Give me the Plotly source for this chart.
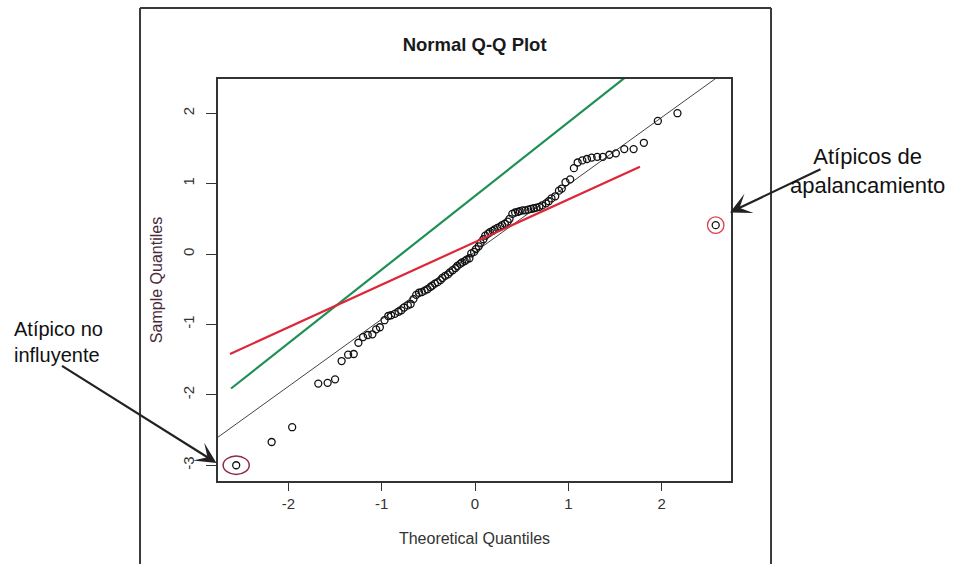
import plotly.graph_objects as go

# ---- data ----
theoretical_q = [
    -2.56, -2.18, -1.96, -1.68, -1.58, -1.50, -1.43, -1.36, -1.30, -1.25,
    -1.20, -1.15, -1.10, -1.06, -1.02, -0.97, -0.93, -0.90, -0.86, -0.82,
    -0.79, -0.76, -0.72, -0.69, -0.66, -0.63, -0.60, -0.57, -0.54, -0.51,
    -0.48, -0.46, -0.43, -0.40, -0.37, -0.35, -0.32, -0.29, -0.27, -0.24,
    -0.21, -0.19, -0.16, -0.14, -0.11, -0.09, -0.06, -0.04, -0.01, 0.01,
    0.04, 0.06, 0.09, 0.11, 0.14, 0.16, 0.19, 0.21, 0.24, 0.27,
    0.29, 0.32, 0.35, 0.37, 0.40, 0.43, 0.46, 0.48, 0.51, 0.54,
    0.57, 0.60, 0.63, 0.66, 0.69, 0.72, 0.76, 0.79, 0.82, 0.86,
    0.90, 0.93, 0.97, 1.02, 1.06, 1.10, 1.15, 1.20, 1.25, 1.31,
    1.37, 1.44, 1.51, 1.60, 1.70, 1.81, 1.96, 2.17, 2.58,
]
sample_q = [
    -3.00, -2.67, -2.46, -1.84, -1.83, -1.78, -1.52, -1.43, -1.42, -1.26,
    -1.18, -1.15, -1.14, -1.07, -1.04, -0.94, -0.88, -0.87, -0.85, -0.82,
    -0.80, -0.76, -0.73, -0.71, -0.64, -0.58, -0.55, -0.54, -0.52, -0.50,
    -0.47, -0.45, -0.42, -0.40, -0.37, -0.34, -0.31, -0.29, -0.26, -0.23,
    -0.20, -0.17, -0.14, -0.12, -0.10, -0.08, -0.06, 0.01, 0.03, 0.07,
    0.11, 0.16, 0.21, 0.26, 0.29, 0.31, 0.33, 0.35, 0.37, 0.39,
    0.41, 0.43, 0.46, 0.50, 0.57, 0.59, 0.60, 0.61, 0.62, 0.62,
    0.63, 0.64, 0.65, 0.66, 0.67, 0.69, 0.72, 0.75, 0.79, 0.82,
    0.90, 0.93, 1.02, 1.06, 1.22, 1.30, 1.33, 1.35, 1.37, 1.38,
    1.38, 1.41, 1.43, 1.49, 1.49, 1.58, 1.89, 2.00, 0.41,
]

# reference (qqline) line: intercept & slope
ref_intercept = 0.03
ref_slope = 0.955
x_range = [-2.755, 2.744]
y_range = [-3.224, 2.486]

# hand-drawn green and red lines (endpoints)
green_x = [-2.615, 1.683]
green_y = [-1.91, 2.585]
red_x = [-2.626, 1.768]
red_y = [-1.42, 1.24]

x_ticks = [-2, -1, 0, 1, 2]
x_ticklabels = ["-2", "-1", "0", "1", "2"]
y_ticks = [-3, -2, -1, 0, 1, 2]
y_ticklabels = ["-3", "-2", "-1", "0", "1", "2"]

FONT = "Liberation Sans, Arial, sans-serif"

fig = go.Figure()

ref_y = [ref_intercept + ref_slope * v for v in x_range]
fig.add_trace(go.Scatter(x=x_range, y=ref_y, mode="lines",
                         line=dict(color="#444444", width=1), hoverinfo="skip"))
fig.add_trace(go.Scatter(x=theoretical_q, y=sample_q, mode="markers",
                         marker=dict(symbol="circle-open", size=7, color="#111111",
                                     line=dict(width=1.3, color="#111111"))))
fig.add_trace(go.Scatter(x=green_x, y=green_y, mode="lines",
                         line=dict(color="#1f8f55", width=2.2)))
fig.add_trace(go.Scatter(x=red_x, y=red_y, mode="lines",
                         line=dict(color="#de2638", width=2.2)))

# outlier circles
lo_x, lo_y = theoretical_q[0], sample_q[0]
hi_x, hi_y = theoretical_q[-1], sample_q[-1]
shapes = [
    dict(type="circle", xref="x", yref="y", x0=lo_x - 0.14, x1=lo_x + 0.14,
         y0=lo_y - 0.13, y1=lo_y + 0.13, line=dict(color="#8c2a4a", width=1.5)),
    dict(type="circle", xref="x", yref="y", x0=hi_x - 0.088, x1=hi_x + 0.088,
         y0=hi_y - 0.117, y1=hi_y + 0.117, line=dict(color="#e0404a", width=1.3)),
    # outer frame of the scanned figure
    dict(type="line", xref="paper", yref="paper", x0=-0.152, x1=-0.152, y0=-0.3, y1=1.1766,
         line=dict(color="#3a3a3a", width=2)),
    dict(type="line", xref="paper", yref="paper", x0=1.078, x1=1.078, y0=-0.3, y1=1.1766,
         line=dict(color="#3a3a3a", width=2)),
    dict(type="line", xref="paper", yref="paper", x0=-0.152, x1=1.078, y0=1.1766, y1=1.1766,
         line=dict(color="#3a3a3a", width=2)),
]

annotations = [
    dict(x=0.998, y=0.668, xref="paper", yref="paper", text="", showarrow=True,
         axref="pixel", ayref="pixel", ax=92, ay=-44, arrowhead=3, arrowsize=1.6,
         arrowwidth=2.2, arrowcolor="#222222"),
    dict(x=-0.003, y=0.045, xref="paper", yref="paper", text="", showarrow=True,
         axref="pixel", ayref="pixel", ax=-156, ay=-98, arrowhead=3, arrowsize=1.6,
         arrowwidth=2.2, arrowcolor="#222222"),
    dict(x=1.267, y=0.771, xref="paper", yref="paper", text="Atípicos de<br>apalancamiento",
         showarrow=False, xanchor="center", yanchor="middle", align="center",
         font=dict(family=FONT, size=22, color="#111111")),
    dict(x=-0.4016, y=0.346, xref="paper", yref="paper", text="Atípico no<br>influyente",
         showarrow=False, xanchor="left", yanchor="middle", align="left",
         font=dict(family=FONT, size=20, color="#111111")),
]

fig.update_layout(
    width=955, height=564,
    margin=dict(l=218, r=224, t=79, b=83),
    paper_bgcolor="white", plot_bgcolor="white",
    showlegend=False,
    font=dict(family=FONT, color="#333333"),
    title=dict(text="<b>Normal Q-Q Plot</b>", x=0.497, xanchor="center",
               y=1 - 45 / 564, yanchor="middle",
               font=dict(family=FONT, size=18.5, color="#1a1a1a")),
    shapes=shapes,
    annotations=annotations,
    xaxis=dict(range=x_range, tickvals=x_ticks, ticktext=x_ticklabels,
               ticks="outside", ticklen=8, tickcolor="#333333", tickwidth=1.2,
               showline=True, mirror=True, linecolor="#333333", linewidth=1.5,
               showgrid=False, zeroline=False, ticklabelstandoff=0,
               tickfont=dict(family=FONT, size=15, color="#333333"),
               title=dict(text="Theoretical Quantiles", standoff=22,
                          font=dict(family=FONT, size=16, color="#333333"))),
    yaxis=dict(range=y_range, tickvals=y_ticks, ticktext=y_ticklabels,
               ticks="outside", ticklen=10, tickcolor="#333333", tickwidth=1.2,
               tickangle=-90,
               showline=True, mirror=True, linecolor="#333333", linewidth=1.5,
               showgrid=False, zeroline=False, ticklabelstandoff=6,
               tickfont=dict(family=FONT, size=15, color="#333333"),
               title=dict(text="Sample Quantiles", standoff=14,
                          font=dict(family=FONT, size=16, color="#4a2a3a"))),
)

fig.write_html("out.html")
